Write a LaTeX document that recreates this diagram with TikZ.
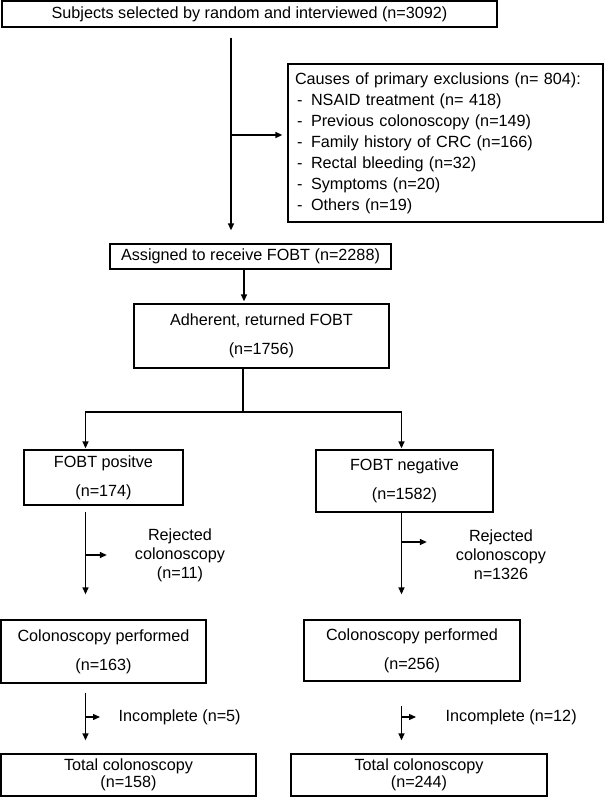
\documentclass[tikz,border=0pt]{standalone}
\usepackage{fontspec}
\setmainfont{Liberation Sans}
\usetikzlibrary{arrows.meta,calc}
\newcommand{\exclitem}[1]{\hspace*{2pt}\makebox[14pt][l]{-}#1}

\begin{document}
\begin{tikzpicture}
	[x=1pt,y=-1pt,line width=1.3pt,>={Triangle[length=7pt,width=6pt]},
	every node/.style={font=\fontsize{16.2}{21}\selectfont,inner sep=0pt},
	box/.style={draw,align=center}]
	\useasboundingbox (0,0) rectangle (605,797);

	\node[box,minimum width=495pt,minimum height=26pt] (subj) at (249.5,14) {Subjects selected by random and interviewed (n=3092)};
	\node[box,align=left,text width=301pt,inner xsep=7pt,minimum height=158pt] (excl) at (445.5,143)
	{Causes of primary exclusions (n= 804):\\
		\exclitem{NSAID treatment (n= 418)}\\
		\exclitem{Previous colonoscopy (n=149)}\\
		\exclitem{Family history of CRC (n=166)}\\
		\exclitem{Rectal bleeding (n=32)}\\
		\exclitem{Symptoms (n=20)}\\
		\exclitem{Others (n=19)}};
	\node[box,minimum width=281pt,minimum height=25pt] (assigned) at (250.5,256.5) {Assigned to receive FOBT (n=2288)};
	\node[box,minimum width=255pt,minimum height=64pt] (adherent) at (261.5,336) {Adherent, returned FOBT\\[8pt](n=1756)};
	\node[box,minimum width=159pt,minimum height=55pt] (pos) at (103.5,477.5) {FOBT positve\\[8pt](n=174)};
	\node[box,minimum width=177pt,minimum height=62pt] (neg) at (404.5,481) {FOBT negative\\[8pt](n=1582)};
	\node[box,minimum width=205pt,minimum height=63pt] (perfL) at (103.5,651.5) {Colonoscopy performed\\[8pt](n=163)};
	\node[box,minimum width=216pt,minimum height=61pt] (perfR) at (412,650.5) {Colonoscopy performed\\[8pt](n=256)};
	\node[box,minimum width=255pt,minimum height=42pt] (totL) at (128.5,775) {Total colonoscopy\\[-4pt](n=158)};
	\node[box,minimum width=256pt,minimum height=42pt] (totR) at (419,775) {Total colonoscopy\\[-4pt](n=244)};

	\node[align=center] (rejL) at (180,555) {Rejected\\[-2pt]colonoscopy\\[-2pt](n=11)};
	\node[align=center] (rejR) at (501,555) {Rejected\\[-2pt]colonoscopy\\[-2pt]n=1326};
	\node[anchor=west] (incL) at (118,717) {Incomplete (n=5)};
	\node[anchor=west] (incR) at (445,717) {Incomplete (n=12)};

	\coordinate (trunk) at (231,135);
	\coordinate (fork) at (243,412);
	\coordinate (lcol) at (85.5,555);
	\coordinate (rcol) at (401.5,542);

	\draw[->,shorten <=10pt,shorten >=13pt] (subj.south -| trunk) -- (assigned.north -| trunk);
	\draw[->,shorten >=5pt] (trunk) -- (trunk -| excl.west);
	\draw[->,shorten >=2pt] ([xshift=-6.5pt]assigned.south) -- ([xshift=-6.5pt]assigned.south |- adherent.north);
	\draw (adherent.south -| fork) -- (fork);
	\draw[->,shorten >=1pt] (fork) -- (fork -| lcol) -- (pos.north -| lcol);
	\draw[->,shorten >=1pt] (fork) -- (fork -| rcol) -- (neg.north -| rcol);
	\path
	\foreach \startNode/\endNode/\colX/\gapA/\gapB in {pos/perfL/lcol/6pt/25pt,neg/perfR/rcol/0pt/25pt,perfL/totL/lcol/9pt/13pt,perfR/totR/rcol/24pt/13pt}
	{
		(\startNode.south -| \colX) edge[->,shorten <=\gapA,shorten >=\gapB] (\endNode.north -| \colX)
	};
	\draw[->,shorten >=27.5pt] (lcol) -- (lcol -| rejL.west);
	\draw[->,shorten >=28.5pt] (rcol) -- (rcol -| rejR.west);
	\draw[->,shorten >=18pt] (incL.west -| lcol) -- (incL.west);
	\draw[->,shorten >=29pt] (incR.west -| rcol) -- (incR.west);
\end{tikzpicture}
\end{document}
